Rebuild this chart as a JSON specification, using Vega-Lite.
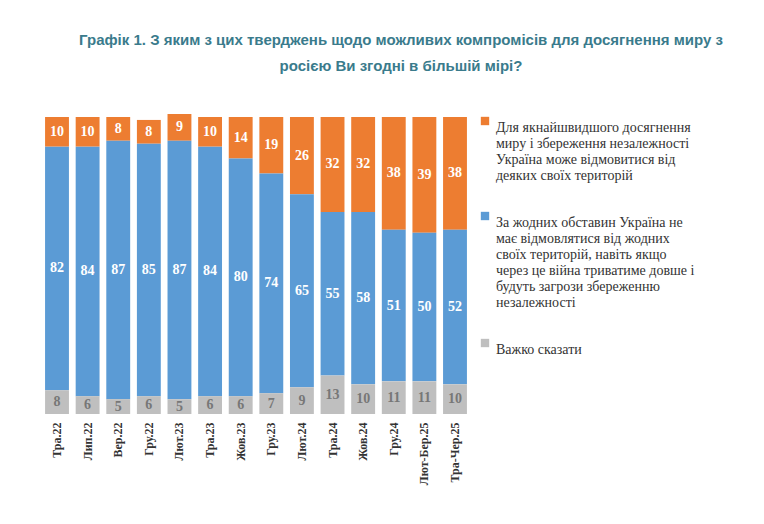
{
  "$schema": "https://vega.github.io/schema/vega-lite/v6.json",
  "width": 428,
  "height": 300,
  "padding": {"left": 42, "top": 33, "right": 5, "bottom": 5},
  "background": "white",
  "title": {
    "text": ["Графік 1. З яким з цих тверджень щодо можливих компромісів для досягнення миру з", "росією Ви згодні в більшій мірі?"],
    "font": "Liberation Sans", "fontSize": 15, "fontWeight": "bold", "color": "#3a7b8c",
    "anchor": "middle", "frame": "group", "dx": 145, "offset": 40, "lineHeight": 26
  },
  "data": {"values": [
    {"p":"Тра.22","o":10,"b":82,"g":8},
    {"p":"Лип.22","o":10,"b":84,"g":6},
    {"p":"Вер.22","o":8,"b":87,"g":5},
    {"p":"Гру.22","o":8,"b":85,"g":6},
    {"p":"Лют.23","o":9,"b":87,"g":5},
    {"p":"Тра.23","o":10,"b":84,"g":6},
    {"p":"Жов.23","o":14,"b":80,"g":6},
    {"p":"Гру.23","o":19,"b":74,"g":7},
    {"p":"Лют.24","o":26,"b":65,"g":9},
    {"p":"Тра.24","o":32,"b":55,"g":13},
    {"p":"Жов.24","o":32,"b":58,"g":10},
    {"p":"Гру.24","o":38,"b":51,"g":11},
    {"p":"Лют-Бер.25","o":39,"b":50,"g":11},
    {"p":"Тра-Чер.25","o":38,"b":52,"g":10}
  ]},
  "transform": [
    {"fold": ["o", "b", "g"], "as": ["k", "v"]},
    {"calculate": "datum.k == 'g' ? 0 : datum.k == 'b' ? 1 : 2", "as": "ord"},
    {"calculate": "datum.k == 'o' ? 'Для якнайшвидшого досягнення|миру і збереження незалежності|Україна може відмовитися від|деяких своїх територій' : datum.k == 'b' ? 'За жодних обставин Україна не|має відмовлятися від жодних|своїх територій, навіть якщо|через це війна триватиме довше і|будуть загрози збереженню|незалежності' : 'Важко сказати'", "as": "cat"}
  ],
  "encoding": {
    "x": {"field": "p", "type": "nominal", "sort": null, "title": null,
      "scale": {"paddingInner": 0.22, "paddingOuter": 0.1},
      "axis": {"labelAngle": -90, "labelFont": "Liberation Serif", "labelFontWeight": "bold", "labelFontSize": 12, "labelColor": "#333", "ticks": false, "domain": false, "labelPadding": 8}},
    "y": {"field": "v", "type": "quantitative", "stack": "zero", "axis": null, "scale": {"domain": [0, 101], "clamp": true}},
    "order": {"field": "ord"}
  },
  "layer": [
    {"mark": {"type": "bar"},
     "encoding": {"color": {"field": "cat", "type": "nominal",
       "scale": {"domain": [
         "Для якнайшвидшого досягнення|миру і збереження незалежності|Україна може відмовитися від|деяких своїх територій",
         "За жодних обставин Україна не|має відмовлятися від жодних|своїх територій, навіть якщо|через це війна триватиме довше і|будуть загрози збереженню|незалежності",
         "Важко сказати"],
         "range": ["#ed7d31", "#5b9bd5", "#bfbfbf"]},
       "legend": {"title": null, "labelExpr": "split(datum.label, '|')", "labelFont": "Liberation Serif", "labelFontSize": 14, "labelColor": "#333", "labelLimit": 320, "symbolType": "square", "symbolSize": 70, "rowPadding": 26, "labelBaseline": "top", "symbolOffset": 0, "offset": 8, "padding": 0}}}},
    {"mark": {"type": "text", "font": "Liberation Serif", "fontSize": 14, "fontWeight": "bold"},
     "encoding": {
       "y": {"field": "v", "type": "quantitative", "stack": "zero", "bandPosition": 0.5},
       "text": {"field": "v"},
       "color": {"condition": {"test": "datum.k == 'g'", "value": "#777"}, "value": "white"}
     }}
  ],
  "config": {"view": {"stroke": null}}
}
